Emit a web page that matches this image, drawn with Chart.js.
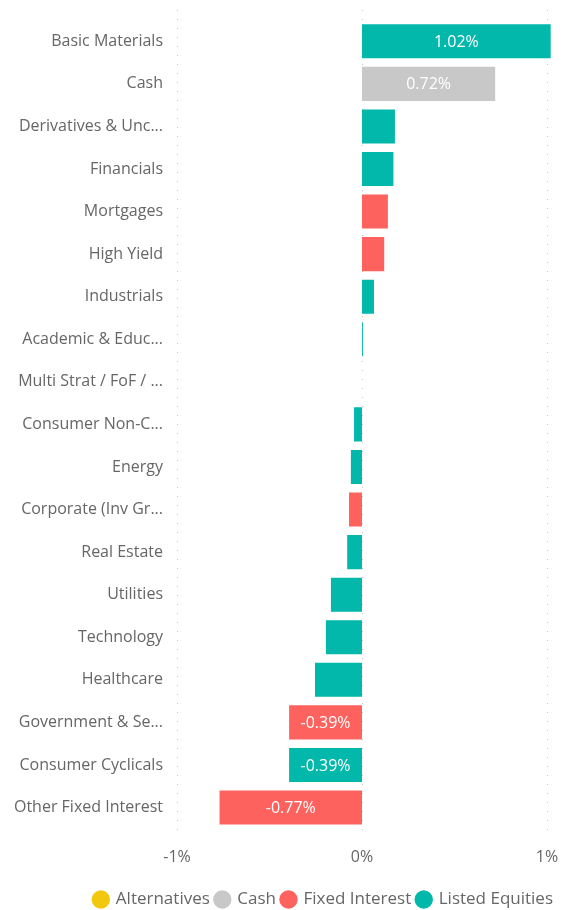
<!DOCTYPE html>
<html><head><meta charset="utf-8">
<script src="https://cdn.jsdelivr.net/npm/chart.js@4/dist/chart.umd.min.js"></script>
<style>html,body{margin:0;padding:0;background:#fff;} #wrap{width:564px;height:910px;position:relative;}</style>
</head><body><div id="wrap"><canvas id="c"></canvas></div>
<script>
const categories = ["Basic Materials","Cash","Derivatives & Unc...","Financials","Mortgages","High Yield","Industrials","Academic & Educ...","Multi Strat / FoF / ...","Consumer Non-C...","Energy","Corporate (Inv Gr...","Real Estate","Utilities","Technology","Healthcare","Government & Se...","Consumer Cyclicals","Other Fixed Interest"];
const alternatives   = [null,null,null,null,null,null,null,null,0,null,null,null,null,null,null,null,null,null,null];
const cash           = [null,0.72,null,null,null,null,null,null,null,null,null,null,null,null,null,null,null,null,null];
const fixedInterest  = [null,null,null,null,0.14,0.12,null,null,null,null,null,-0.07,null,null,null,null,-0.394,null,-0.77];
const listedEquities = [1.02,null,0.178,0.17,null,null,0.065,0.005,null,-0.043,-0.06,null,-0.08,-0.168,-0.195,-0.254,null,-0.394,null];
const seriesNames = ["Alternatives","Cash","Fixed Interest","Listed Equities"];
const seriesColors = ["#F2C80F","#C8C8C8","#FD625E","#01B8AA"];
const xTicks = [-1,0,1];

const FONT = "'Open Sans', 'Noto Sans', sans-serif";
const TXT = "#666666";

const gridPlugin = {
  id: 'dotGrid',
  beforeDatasetsDraw(chart) {
    const {ctx, chartArea, scales} = chart;
    ctx.save();
    ctx.strokeStyle = '#C8C8C8';
    ctx.lineWidth = 1;
    ctx.setLineDash([1,8]);
    xTicks.forEach(v => {
      const x = Math.round(scales.x.getPixelForValue(v)) + 0.5;
      ctx.beginPath();
      ctx.moveTo(x, chartArea.top - 10);
      ctx.lineTo(x, chartArea.bottom + 6);
      ctx.stroke();
    });
    ctx.restore();
  }
};

const labelPlugin = {
  id: 'barLabels',
  afterDatasetsDraw(chart) {
    const {ctx} = chart;
    ctx.save();
    ctx.font = "16px " + FONT;
    ctx.fillStyle = '#FFFFFF';
    ctx.textAlign = 'center';
    ctx.textBaseline = 'middle';
    chart.data.datasets.forEach((ds, di) => {
      const meta = chart.getDatasetMeta(di);
      meta.data.forEach((el, i) => {
        const v = ds.data[i];
        if (v === null || v === undefined) return;
        const w = Math.abs(el.x - el.base);
        if (w < 60) return;
        ctx.fillText(v.toFixed(2) + '%', (el.x + el.base) / 2, el.y + 1);
      });
    });
    ctx.restore();
  }
};

const datasets = [alternatives, cash, fixedInterest, listedEquities].map((d, i) => ({
  label: seriesNames[i],
  data: d,
  backgroundColor: seriesColors[i],
  borderWidth: 0,
  categoryPercentage: 0.8,
  barPercentage: 1.0
}));

new Chart(document.getElementById('c'), {
  type: 'bar',
  data: { labels: categories, datasets },
  options: {
    indexAxis: 'y',
    responsive: true,
    maintainAspectRatio: false,
    animation: false,
    layout: { padding: { top: 20, right: 5, left: 0, bottom: -8 } },
    scales: {
      x: {
        stacked: true,
        min: -1, max: 1.065,
        afterBuildTicks(scale) { scale.ticks = xTicks.map(v => ({value: v})); },
        afterFit(scale) { scale.paddingLeft = 0; scale.paddingRight = 0; scale.height += 7; },
        ticks: { color: TXT, font: { family: FONT, size: 16 }, padding: 11, callback: v => v + '%', maxRotation: 0 },
        grid: { display: false },
        border: { display: false }
      },
      y: {
        stacked: true,
        afterFit(scale) { scale.width = 177; },
        ticks: { color: TXT, font: { family: FONT, size: 16 }, padding: 6 },
        grid: { display: false },
        border: { display: false }
      }
    },
    plugins: {
      legend: {
        position: 'bottom',
        align: 'end',
        labels: {
          usePointStyle: true, pointStyle: 'circle', boxWidth: 13, boxHeight: 13,
          color: TXT, font: { family: FONT, size: 17 }, padding: 6
        }
      },
      tooltip: { enabled: false }
    }
  },
  plugins: [gridPlugin, labelPlugin]
});
</script></body></html>
